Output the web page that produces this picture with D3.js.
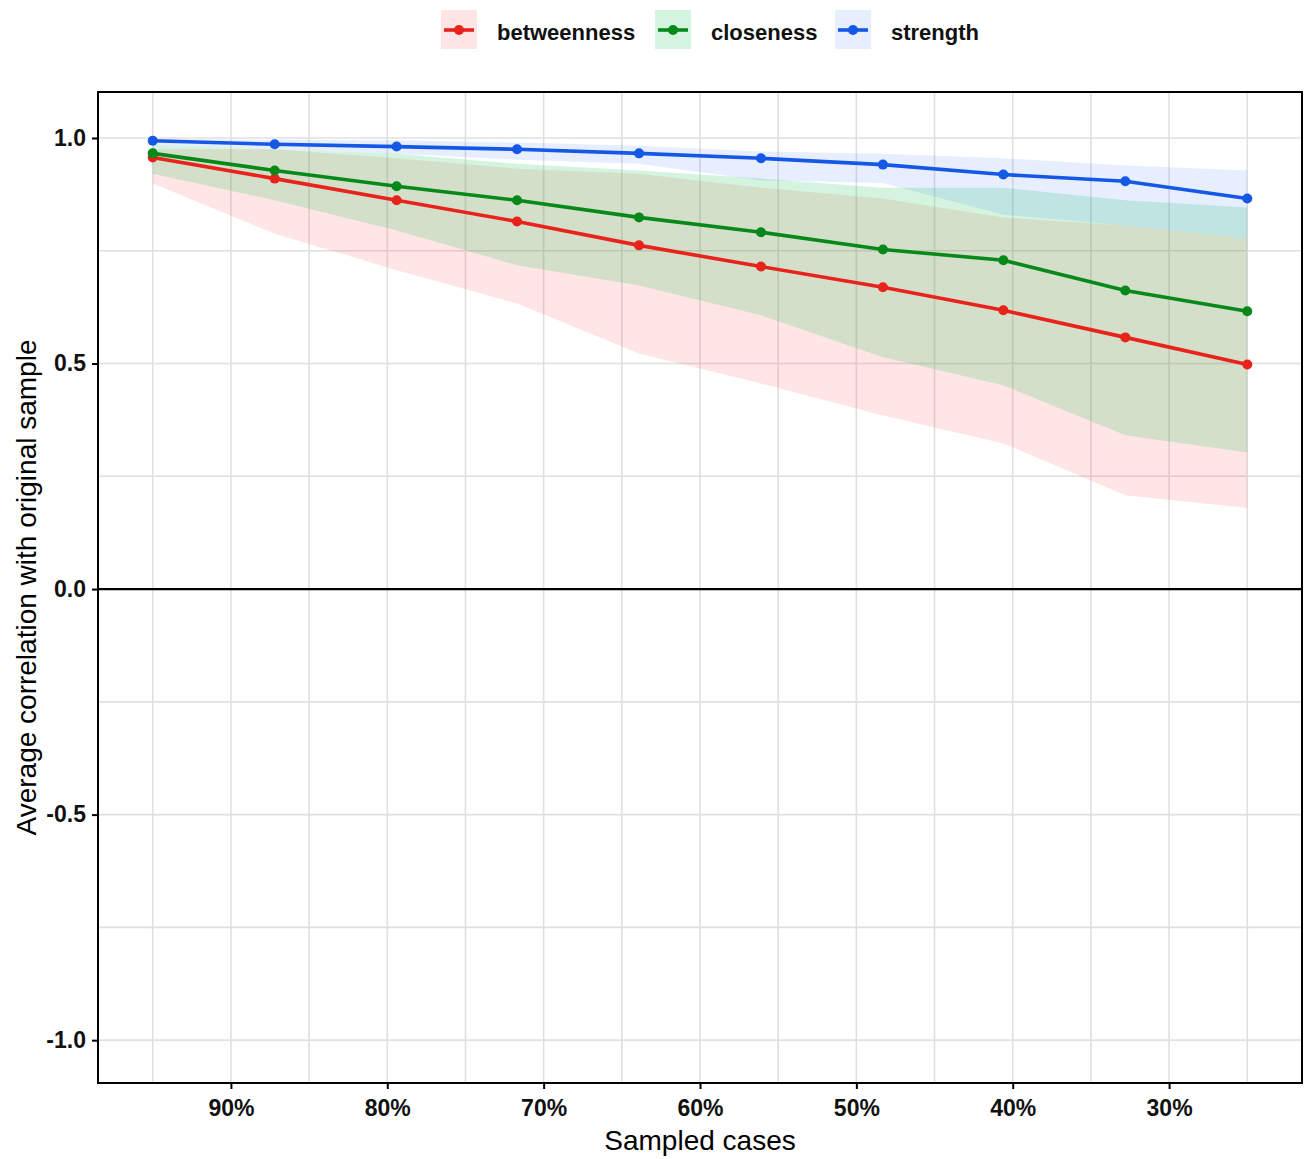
<!DOCTYPE html>
<html>
<head>
<meta charset="utf-8">
<script src="https://cdn.jsdelivr.net/npm/d3@7"></script>
<style>
  body { margin: 0; background: #fff; }
  svg { display: block; font-family: "Liberation Sans", Arial, sans-serif; }
</style>
</head>
<body>
<svg id="chart" width="1304" height="1159"></svg>
<script>
// proportion of cases kept in each subsample
var sampledCases = [0.95, 0.872, 0.794, 0.717, 0.639, 0.561, 0.483, 0.406, 0.328, 0.25];

var betweennessMean  = [0.957, 0.910, 0.862, 0.815, 0.762, 0.715, 0.669, 0.618, 0.558, 0.498];
var betweennessLower = [0.899, 0.788, 0.707, 0.633, 0.522, 0.456, 0.385, 0.323, 0.208, 0.180];
var betweennessUpper = [0.975, 0.975, 0.955, 0.932, 0.921, 0.890, 0.866, 0.824, 0.806, 0.777];

var closenessMean  = [0.966, 0.928, 0.893, 0.862, 0.824, 0.791, 0.753, 0.729, 0.662, 0.616];
var closenessLower = [0.921, 0.862, 0.795, 0.718, 0.673, 0.607, 0.514, 0.452, 0.341, 0.303];
var closenessUpper = [0.985, 0.975, 0.965, 0.943, 0.928, 0.910, 0.890, 0.890, 0.862, 0.846];

var strengthMean  = [0.994, 0.986, 0.981, 0.975, 0.966, 0.955, 0.941, 0.919, 0.904, 0.866];
var strengthLower = [0.985, 0.975, 0.965, 0.952, 0.943, 0.906, 0.900, 0.830, 0.806, 0.777];
var strengthUpper = [0.998, 0.996, 0.995, 0.990, 0.983, 0.970, 0.965, 0.955, 0.939, 0.928];

var xMajorTicks = [0.9, 0.8, 0.7, 0.6, 0.5, 0.4, 0.3];
var xMinorTicks = [0.95, 0.85, 0.75, 0.65, 0.55, 0.45, 0.35, 0.25];
var yMajorTicks = [-1, -0.5, 0, 0.5, 1];
var yMinorTicks = [-0.75, -0.25, 0.25, 0.75];

var seriesNames = ['betweenness', 'closeness', 'strength'];

var series = [
  { name: 'betweenness', line: '#e8231c', fill: '#ff0000', opacity: 0.1,
    mean: betweennessMean, lower: betweennessLower, upper: betweennessUpper },
  { name: 'closeness', line: '#07891a', fill: '#28c85f', opacity: 0.2,
    mean: closenessMean, lower: closenessLower, upper: closenessUpper },
  { name: 'strength', line: '#1558e6', fill: '#0a5cff', opacity: 0.1,
    mean: strengthMean, lower: strengthLower, upper: strengthUpper }
];

var svg = d3.select('#chart');

var panel = { left: 98, right: 1302, top: 92, bottom: 1083 };

var x = d3.scaleLinear()
  .domain([0.985, 0.215])
  .range([panel.left, panel.right]);

var y = d3.scaleLinear()
  .domain([-1.095, 1.102])
  .range([panel.bottom, panel.top]);

/**
 * Grid
 */
var grid = svg.append('g').attr('class', 'grid');

grid.selectAll('line.xgrid')
  .data(xMinorTicks.concat(xMajorTicks))
  .enter()
  .append('line')
  .attr('x1', function (d) { return x(d); })
  .attr('x2', function (d) { return x(d); })
  .attr('y1', panel.top)
  .attr('y2', panel.bottom)
  .attr('stroke', '#e0e0e0')
  .attr('stroke-width', 1.6);

grid.selectAll('line.ygrid')
  .data(yMinorTicks.concat(yMajorTicks))
  .enter()
  .append('line')
  .attr('x1', panel.left)
  .attr('x2', panel.right)
  .attr('y1', function (d) { return y(d); })
  .attr('y2', function (d) { return y(d); })
  .attr('stroke', '#e0e0e0')
  .attr('stroke-width', 1.6);

/**
 * Ribbons, lines and points
 */
var drawRibbon = d3.area()
  .x(function (d) { return x(d.x); })
  .y0(function (d) { return y(d.lower); })
  .y1(function (d) { return y(d.upper); });

var drawLine = d3.line()
  .x(function (d) { return x(d.x); })
  .y(function (d) { return y(d.mean); });

series.forEach(function (s) {
  s.points = sampledCases.map(function (c, i) {
    return { x: c, mean: s.mean[i], lower: s.lower[i], upper: s.upper[i] };
  });
});

svg.append('g')
  .selectAll('path')
  .data(series)
  .enter()
  .append('path')
  .attr('d', function (s) { return drawRibbon(s.points); })
  .attr('fill', function (s) { return s.fill; })
  .attr('fill-opacity', function (s) { return s.opacity; });

// zero reference line
svg.append('line')
  .attr('x1', panel.left)
  .attr('x2', panel.right)
  .attr('y1', y(0))
  .attr('y2', y(0))
  .attr('stroke', '#000')
  .attr('stroke-width', 2.4);

var seriesG = svg.append('g')
  .selectAll('g.series')
  .data(series)
  .enter()
  .append('g')
  .attr('class', 'series');

seriesG.append('path')
  .attr('d', function (s) { return drawLine(s.points); })
  .attr('fill', 'none')
  .attr('stroke', function (s) { return s.line; })
  .attr('stroke-width', 3.6);

seriesG.selectAll('circle')
  .data(function (s) { return s.points.map(function (p) { return Object.assign({ color: s.line }, p); }); })
  .enter()
  .append('circle')
  .attr('cx', function (d) { return x(d.x); })
  .attr('cy', function (d) { return y(d.mean); })
  .attr('r', 5)
  .attr('fill', function (d) { return d.color; });

/**
 * Panel border and axes
 */
svg.append('rect')
  .attr('x', panel.left)
  .attr('y', panel.top)
  .attr('width', panel.right - panel.left)
  .attr('height', panel.bottom - panel.top)
  .attr('fill', 'none')
  .attr('stroke', '#000')
  .attr('stroke-width', 2);

var xAxis = svg.append('g')
  .attr('transform', 'translate(0,' + panel.bottom + ')')
  .call(d3.axisBottom(x)
    .tickValues(xMajorTicks)
    .tickSize(6)
    .tickPadding(11)
    .tickFormat(d3.format('.0%')));

var yAxis = svg.append('g')
  .attr('transform', 'translate(' + panel.left + ',0)')
  .call(d3.axisLeft(y)
    .tickValues(yMajorTicks)
    .tickSize(6)
    .tickPadding(6)
    .tickFormat(d3.format('.1f')));

[xAxis, yAxis].forEach(function (ax) {
  ax.select('.domain').remove();
  ax.selectAll('.tick line').attr('stroke', '#000').attr('stroke-width', 2);
  ax.selectAll('.tick text')
    .attr('fill', '#111')
    .style('font-size', '23px')
    .style('font-weight', 'bold')
    .style('font-family', '"Liberation Sans", Arial, sans-serif');
});

// the minus sign in the reference is a plain hyphen
yAxis.selectAll('.tick text').text(function (d) { return d3.format('.1f')(d).replace('\u2212', '-'); });

svg.append('text')
  .attr('x', (panel.left + panel.right) / 2)
  .attr('y', 1150)
  .attr('text-anchor', 'middle')
  .style('font-size', '28px')
  .attr('fill', '#000')
  .text('Sampled cases');

svg.append('text')
  .attr('transform', 'translate(36,' + ((panel.top + panel.bottom) / 2) + ') rotate(-90)')
  .attr('text-anchor', 'middle')
  .style('font-size', '28px')
  .attr('fill', '#000')
  .text('Average correlation with original sample');

/**
 * Legend
 */
var legendX = [441, 655, 835];

var legend = svg.append('g')
  .selectAll('g.legend-item')
  .data(series)
  .enter()
  .append('g')
  .attr('class', 'legend-item')
  .attr('transform', function (s, i) { return 'translate(' + legendX[i] + ',10)'; });

legend.append('rect')
  .attr('width', 36)
  .attr('height', 39)
  .attr('fill', function (s) { return s.fill; })
  .attr('fill-opacity', function (s) { return s.opacity; });

legend.append('line')
  .attr('x1', 3)
  .attr('x2', 33)
  .attr('y1', 20)
  .attr('y2', 20)
  .attr('stroke', function (s) { return s.line; })
  .attr('stroke-width', 3.6);

legend.append('circle')
  .attr('cx', 18)
  .attr('cy', 20)
  .attr('r', 5)
  .attr('fill', function (s) { return s.line; });

legend.append('text')
  .attr('x', 56)
  .attr('y', 30)
  .style('font-size', '22px')
  .style('font-weight', 'bold')
  .attr('fill', '#111')
  .text(function (s, i) { return seriesNames[i]; });
</script>
</body>
</html>
